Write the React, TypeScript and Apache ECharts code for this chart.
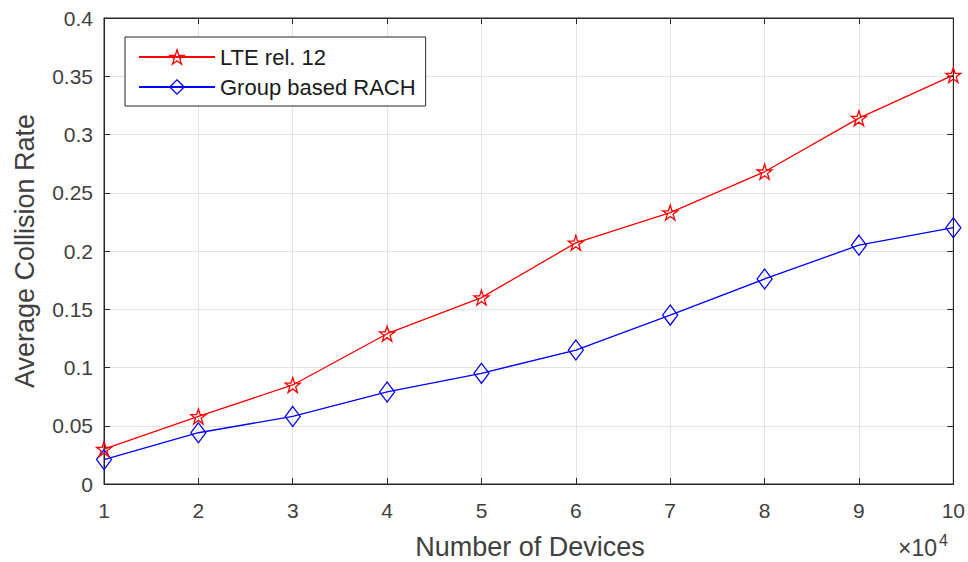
import React, { useEffect, useRef } from "react";
import * as echarts from "echarts";

const devices = [1, 2, 3, 4, 5, 6, 7, 8, 9, 10];
const lteRel12 = [0.03, 0.058, 0.085, 0.129, 0.16, 0.207, 0.233, 0.268, 0.314, 0.351];
const groupRach = [0.021, 0.044, 0.058, 0.079, 0.095, 0.115, 0.145, 0.176, 0.205, 0.22];
const seriesNames = ["LTE rel. 12", "Group based RACH"];

const STAR =
  "path://M50,0 L61.8,35.4 L99,35.4 L69,57.3 L80.4,92.7 L50,70.8 L19.6,92.7 L31,57.3 L1,35.4 L38.2,35.4 Z";

export default function App() {
  const ref = useRef<HTMLDivElement>(null);
  useEffect(() => {
    document.body.style.margin = "0";
    const chart = echarts.init(ref.current!, null, { renderer: "svg" });
    const font = "Liberation Sans, Arial, sans-serif";
    const axisColor = "#262626";
    const labelColor = "#404040";
    const pairs = (ys: number[]) => devices.map((x, i) => [x, ys[i]]);
    const red = "#ff0000";
    const blue = "#0000ff";
    chart.setOption({
      animation: false,
      backgroundColor: "#ffffff",
      grid: {
        left: 104,
        right: 13,
        top: 18,
        bottom: 78,
        show: true,
        borderColor: axisColor,
        borderWidth: 1,
        backgroundColor: "transparent",
      },
      xAxis: [
        {
          type: "value",
          min: 1,
          max: 10,
          interval: 1,
          axisLine: { show: true, lineStyle: { color: axisColor, width: 1 } },
          axisTick: { show: true, inside: true, length: 6, lineStyle: { color: axisColor } },
          axisLabel: { color: labelColor, fontSize: 21, fontFamily: font, margin: 16 },
          splitLine: { show: true, lineStyle: { color: "#e3e3e3", width: 1 } },
        },
        {
          type: "value",
          position: "top",
          min: 1,
          max: 10,
          interval: 1,
          axisLine: { show: true, onZero: false, lineStyle: { color: axisColor, width: 1 } },
          axisTick: { show: true, inside: true, length: 6, lineStyle: { color: axisColor } },
          axisLabel: { show: false },
          splitLine: { show: false },
        },
      ],
      yAxis: [
        {
          type: "value",
          min: 0,
          max: 0.4,
          interval: 0.05,
          axisLine: { show: true, lineStyle: { color: axisColor, width: 1 } },
          axisTick: { show: true, inside: true, length: 6, lineStyle: { color: axisColor } },
          axisLabel: { color: labelColor, fontSize: 21, fontFamily: font, margin: 11 },
          splitLine: { show: true, lineStyle: { color: "#e3e3e3", width: 1 } },
        },
        {
          type: "value",
          position: "right",
          min: 0,
          max: 0.4,
          interval: 0.05,
          axisLine: { show: true, onZero: false, lineStyle: { color: axisColor, width: 1 } },
          axisTick: { show: true, inside: true, length: 6, lineStyle: { color: axisColor } },
          axisLabel: { show: false },
          splitLine: { show: false },
        },
      ],
      legend: {
        left: 125,
        top: 37,
        orient: "vertical",
        backgroundColor: "#ffffff",
        borderColor: axisColor,
        borderWidth: 1,
        borderRadius: 0,
        padding: [9, 10, 8, 13],
        itemGap: 8,
        itemWidth: 76,
        itemHeight: 18,
        textStyle: { fontSize: 22, fontFamily: font, color: "#1a1a1a" },
        data: [
          {
            name: seriesNames[0],
            itemStyle: { color: "rgba(255,255,255,0)", borderColor: red, borderWidth: 1.3 },
          },
          {
            name: seriesNames[1],
            itemStyle: { color: "rgba(255,255,255,0)", borderColor: blue, borderWidth: 1.3 },
          },
        ],
      },
      series: [
        {
          name: seriesNames[0],
          type: "line",
          data: pairs(lteRel12),
          symbol: STAR,
          symbolSize: 15,
          showAllSymbol: true,
          lineStyle: { color: red, width: 1.3 },
          itemStyle: { color: "rgba(255,255,255,0)", borderColor: red, borderWidth: 1.3 },
          z: 3,
        },
        {
          name: seriesNames[1],
          type: "line",
          data: pairs(groupRach),
          symbol: "diamond",
          symbolSize: [15, 20],
          showAllSymbol: true,
          lineStyle: { color: blue, width: 1.3 },
          itemStyle: { color: "rgba(255,255,255,0)", borderColor: blue, borderWidth: 1.3 },
          z: 2,
        },
      ],
      graphic: [
        {
          type: "text",
          x: 25,
          y: 251,
          rotation: Math.PI / 2,
          style: {
            text: "Average Collision Rate",
            fontSize: 27,
            fontFamily: font,
            fill: labelColor,
            align: "center",
            verticalAlign: "middle",
          },
        },
        {
          type: "text",
          x: 530,
          y: 547,
          style: {
            text: "Number of Devices",
            fontSize: 27,
            fontFamily: font,
            fill: labelColor,
            align: "center",
            verticalAlign: "middle",
          },
        },
        {
          type: "text",
          x: 898,
          y: 548,
          style: {
            text: "×10",
            fontSize: 23,
            fontFamily: font,
            fill: labelColor,
            align: "left",
            verticalAlign: "middle",
          },
        },
        {
          type: "text",
          x: 939,
          y: 540,
          style: {
            text: "4",
            fontSize: 16,
            fontFamily: font,
            fill: labelColor,
            align: "left",
            verticalAlign: "middle",
          },
        },
      ],
    });
    return () => chart.dispose();
  }, []);
  return <div ref={ref} style={{ width: 968, height: 562 }} />;
}
